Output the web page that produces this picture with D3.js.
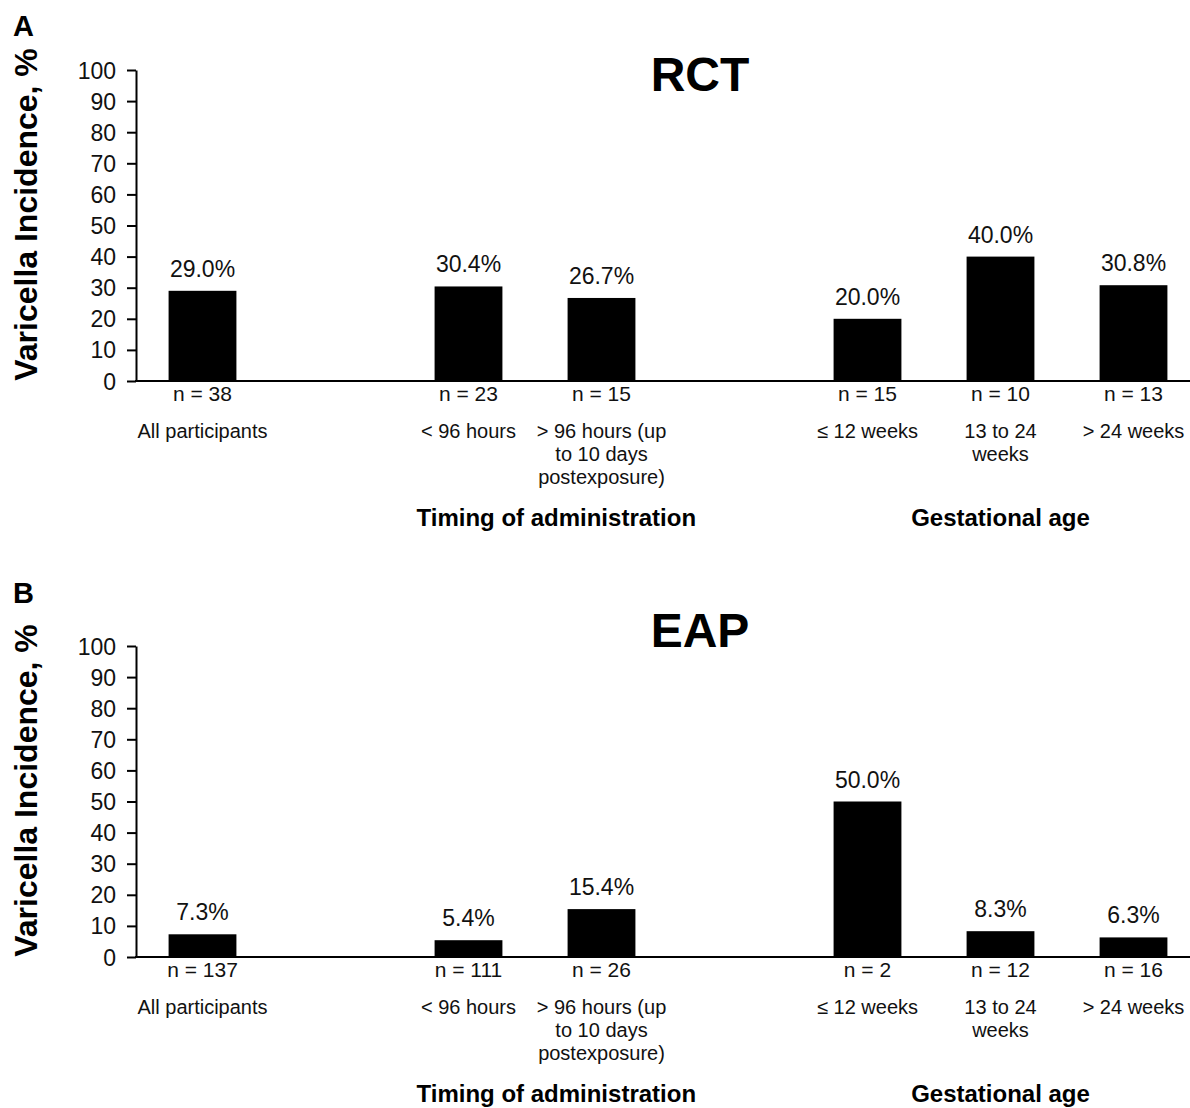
<!DOCTYPE html>
<html>
<head>
<meta charset="utf-8">
<script src="https://cdn.jsdelivr.net/npm/d3@7"></script>
<style>
  html, body { margin: 0; padding: 0; background: #fff; }
  svg { display: block; font-family: "Liberation Sans", Arial, sans-serif; }
</style>
</head>
<body>
<svg id="chart" width="1190" height="1108"></svg>
<script>
// ---- data ----
const slots = ["all", "gap1", "lt96", "gt96", "gap2", "le12", "13to24", "gt24"];
const categoryKeys = ["all", "lt96", "gt96", "le12", "13to24", "gt24"];
const categoryLabels = [
  ["All participants"],
  ["< 96 hours"],
  ["> 96 hours (up", "to 10 days", "postexposure)"],
  ["\u2264 12 weeks"],
  ["13 to 24", "weeks"],
  ["> 24 weeks"]
];
const groupLabels = ["Timing of administration", "Gestational age"];
const yTicks = [0, 10, 20, 30, 40, 50, 60, 70, 80, 90, 100];

const rctValues = [29.0, 30.4, 26.7, 20.0, 40.0, 30.8];
const rctN = [38, 23, 15, 15, 10, 13];
const eapValues = [7.3, 5.4, 15.4, 50.0, 8.3, 6.3];
const eapN = [137, 111, 26, 2, 12, 16];

const panels = [
  { letter: "A", title: "RCT", values: rctValues, n: rctN, top: 70, bottom: 381, titleY: 91, letterY: 36 },
  { letter: "B", title: "EAP", values: eapValues, n: eapN, top: 646, bottom: 957, titleY: 647, letterY: 603 }
];

// ---- drawing ----
const svg = d3.select("#chart");
const x = d3.scaleBand().domain(slots).range([136, 1200]).paddingInner(0.49).paddingOuter(0.245);

panels.forEach(p => {
  const g = svg.append("g");
  const y = d3.scaleLinear().domain([0, 100]).range([p.bottom, p.top]);

  // panel letter
  g.append("text").attr("x", 13).attr("y", p.letterY)
    .attr("font-size", 29).attr("font-weight", "bold").attr("fill", "#000").text(p.letter);

  // title
  g.append("text").attr("x", 700).attr("y", p.titleY).attr("text-anchor", "middle")
    .attr("font-size", 48).attr("font-weight", "bold").attr("fill", "#000").text(p.title);

  // y axis title
  g.append("text")
    .attr("transform", `translate(37,${(p.top + p.bottom) / 2 - 11}) rotate(-90)`)
    .attr("text-anchor", "middle").attr("font-size", 32).attr("font-weight", "bold")
    .attr("fill", "#000").text("Varicella Incidence, %");

  // y axis
  const yAxis = g.append("g").attr("transform", "translate(136,0)")
    .call(d3.axisLeft(y).tickValues(yTicks).tickSize(9).tickPadding(11).tickSizeOuter(0));
  yAxis.select(".domain").attr("stroke", "#000").attr("stroke-width", 2);
  yAxis.selectAll(".tick line").attr("stroke", "#000").attr("stroke-width", 2);
  yAxis.selectAll(".tick text").attr("font-size", 23).attr("fill", "#111")
    .attr("font-family", "'Liberation Sans', Arial, sans-serif").attr("dy", "0.35em");

  // bars
  g.selectAll("rect.bar").data(p.values).join("rect").attr("class", "bar")
    .attr("x", (d, i) => x(categoryKeys[i]))
    .attr("width", x.bandwidth())
    .attr("y", d => y(d))
    .attr("height", d => y(0) - y(d))
    .attr("fill", "#000");

  // x axis baseline
  g.append("line").attr("x1", 135).attr("x2", 1200)
    .attr("y1", y(0)).attr("y2", y(0)).attr("stroke", "#000").attr("stroke-width", 2);

  // value labels
  g.selectAll("text.val").data(p.values).join("text").attr("class", "val")
    .attr("x", (d, i) => x(categoryKeys[i]) + x.bandwidth() / 2)
    .attr("y", d => y(d) - 14)
    .attr("text-anchor", "middle").attr("font-size", 23).attr("fill", "#111")
    .text(d => d.toFixed(1) + "%");

  // n labels
  g.selectAll("text.n").data(p.n).join("text").attr("class", "n")
    .attr("x", (d, i) => x(categoryKeys[i]) + x.bandwidth() / 2)
    .attr("y", y(0) + 20)
    .attr("text-anchor", "middle").attr("font-size", 21).attr("fill", "#111")
    .text(d => "n = " + d);

  // category labels
  categoryLabels.forEach((lines, i) => {
    const t = g.append("text")
      .attr("x", x(categoryKeys[i]) + x.bandwidth() / 2)
      .attr("y", y(0) + 57)
      .attr("text-anchor", "middle").attr("font-size", 20).attr("fill", "#111");
    lines.forEach((ln, j) => {
      t.append("tspan").attr("x", x(categoryKeys[i]) + x.bandwidth() / 2)
        .attr("dy", j === 0 ? 0 : 23).text(ln);
    });
  });

  // group labels
  const groupX = [x("gt96") + x.bandwidth() / 2 - 0.34 * x.step(), x("13to24") + x.bandwidth() / 2];
  groupLabels.forEach((lab, i) => {
    g.append("text").attr("x", groupX[i]).attr("y", y(0) + 145)
      .attr("text-anchor", "middle").attr("font-size", 24).attr("font-weight", "bold")
      .attr("fill", "#000").text(lab);
  });
});
</script>
</body>
</html>
